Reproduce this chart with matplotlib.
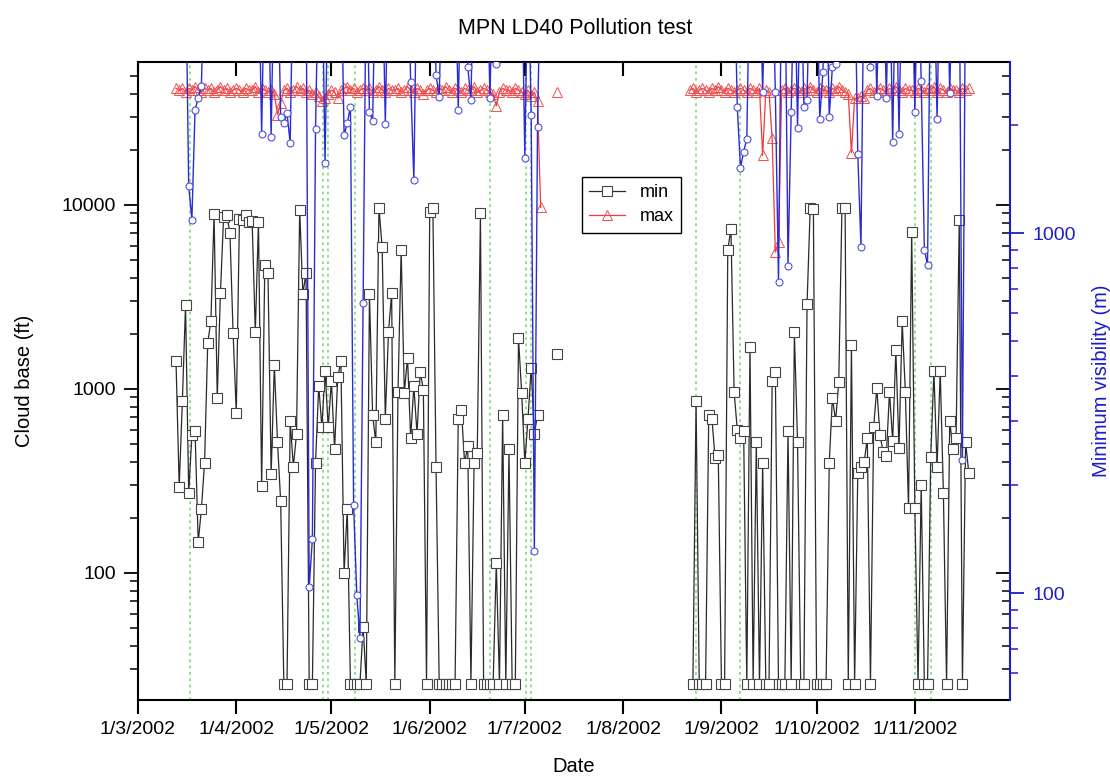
import numpy as np
import pandas as pd
import matplotlib
matplotlib.use('Agg')
import matplotlib.pyplot as plt
import matplotlib.dates as mdates
from matplotlib.ticker import FixedLocator, FuncFormatter, LogLocator, NullFormatter

plt.rcParams['font.family'] = ['Liberation Sans', 'DejaVu Sans']

nan = np.nan
T = 6000  # visibility above the top of the right axis (off scale)

# ---- first block of daily data (13 Mar - 12 Jul 2002) ----
start_1 = '2002-03-13'
cloud_min_1 = [
    1410, 293, 860, 2860, 272, 560, 590, 147, 222, 397,
    1780, 2340, 8930, 895, 3320, 8600, 8800, 7050, 2010, 740,
    8400, 8300, 8800, 8100, 8200, 2040, 8100, 296, 4720, 4270,
    346, 1350, 515, 245, 25, 25, 670, 378, 570, 9400,
    3290, 4270, 25, 25, 397, 1040, 620, 1250, 620, 1110,
    470, 1160, 1410, 100, 222, 25, 25, 25, 25, 51,
    25, 3290, 720, 515, 9650, 5900, 690, 2040, 3320, 25,
    965, 5700, 955, 1480, 540, 1040, 570, 1240, 990, 25,
    9170, 9650, 375, 25, 25, 25, 25, 25, 25, 690,
    770, 397, 490, 25, 397, 450, 9030, 25, 25, 25,
    25, 113, 25, 720, 25, 470, 25, 25, 1890, 955,
    397, 690, 1300, 570, 720, nan, nan, nan, nan, nan,
    1550,
]
cloud_max_1_kft = [
    43, 42, 43, 41, 43, 42, 44, 42, 41, 43,
    42, 43, 41, 42, 44, 42, 43, 41, 42, 43,
    42, 41, 43, 42, 42, 44, 41, 43, 42, 41,
    42, 40, 31, 36, 42, 43, 41, 42, 44, 42,
    43, 41, 42, 40, 41, 39, 36.5, 38, 40, 42,
    41, 38, 42, 43, 44, 42, 43, 41, 42, 43,
    42, 43, 41, 42, 44, 42, 41, 43, 42, 42,
    43, 41, 42, 44, 42, 41, 43, 42, 40, 42,
    43, 42, 41, 43, 42, 44, 42, 41, 43, 42,
    41, 43, 42, 42, 44, 41, 42, 43, 42, 41,
    40, 34.5, 41, 43, 42, 42, 41, 43, 42, 41,
    40, 42, 39, 41, 36.5, 9.7, nan, nan, nan, nan,
    41,
]
vis_min_1 = [
    T, T, T, T, 1350, 1090, 2200, 2370, 2560, T,
    T, T, T, T, T, T, T, T, T, T,
    T, T, T, T, T, T, T, 1880, T, T,
    1850, T, T, 2100, 2020, 2150, 1780, T, T, T,
    T, T, 104, 141, 1950, T, T, 1560, T, T,
    T, T, T, 1870, 2020, 2240, 176, 99, 75, 640,
    T, 2170, 2050, T, T, T, 2010, T, T, T,
    T, T, T, T, 2630, 1400, T, T, T, T,
    T, T, 2750, 2380, T, T, T, T, T, 2200,
    T, T, 2900, 2340, T, T, T, T, T, 2370,
    T, 2950, T, T, T, T, T, T, T, T,
    1620, T, 2130, 131, 1970, T, nan, nan, nan, nan,
    nan,
]

# ---- second block of daily data (22 Aug - 18 Nov 2002) ----
start_2 = '2002-08-22'
cloud_min_2 = [
    nan, 25, 860, 25, 25, 25, 720, 690, 420, 440,
    25, 25, 5700, 7400, 965, 600, 540, 590, 25, 1700,
    25, 515, 25, 397, 25, 25, 1110, 1240, 25, 25,
    25, 590, 25, 2040, 515, 25, 25, 2900, 9650, 9500,
    25, 25, 25, 25, 397, 895, 670, 1090, 9650, 9650,
    25, 1730, 25, 350, 375, 400, 540, 25, 620, 1010,
    560, 455, 430, 965, 520, 1620, 475, 2340, 965, 225,
    7130, 225, 25, 300, 25, 25, 425, 1250, 375, 1250,
    272, 25, 670, 470, 540, 8300, 25, 515, 350,
]
cloud_max_2_kft = [
    42, 43, 41, 42, 43, 42, 41, 43, 42, 44,
    42, 41, 43, 42, 41, 42, 43, 42, 41, 43,
    42, 41, 43, 18.6, 42, 41, 23, 5.55, 6.3, 42,
    43, 41, 42, 43, 42, 41, 43, 42, 44, 42,
    41, 43, 42, 42, 41, 43, 42, 44, 42, 41,
    40, 19.2, 38, 38, 39, 38, 42, 43, 41, 42,
    43, 42, 41, 43, 42, 44, 42, 41, 43, 42,
    42, 41, 43, 42, 41, 43, 42, 44, 41, 43,
    42, 41, 43, 42, 42, 41, 43, 42, 43,
]
vis_min_2 = [
    T, T, T, T, T, T, T, T, T, T,
    T, T, T, T, T, 2240, 1520, 1680, 1830, T,
    T, T, T, 2460, T, T, T, 2460, 730, T,
    T, 810, 2170, T, 1960, T, 2240, 2340, T, T,
    T, 2070, 2800, T, 2100, 2900, 2950, T, T, T,
    T, T, T, 1660, 915, T, T, 2900, T, 2400,
    T, T, 2370, T, 1790, T, 1880, T, T, T,
    T, 2170, T, 2650, 900, 815, T, T, 2070, T,
    T, T, 2450, T, T, T, 234, T, T,
]

# dotted green event markers, days after 1 Mar 2002
event_days = [16.4, 58.2, 59.8, 68.3, 111.1, 122.5, 124.1, 176.0, 189.9, 245.0, 250.0]
month_ticks = pd.date_range('2002-03-01', '2002-11-01', freq='MS')

blocks = [
    (start_1, cloud_min_1, cloud_max_1_kft, vis_min_1),
    (start_2, cloud_min_2, cloud_max_2_kft, vis_min_2),
]

plain = FuncFormatter(lambda v, p: '{:.0f}'.format(v))

fig = plt.figure(figsize=(11.1, 7.8), dpi=100)
ax = fig.add_axes([0.1243, 0.1026, 0.7856, 0.8179])
ax3 = ax.twinx()   # mirrored black ticks on the right, pointing inwards
ax2 = ax.twinx()   # blue visibility axis

for d in event_days:
    ax.axvline(pd.Timestamp('2002-03-01') + pd.Timedelta(days=d),
               color='#80e080', ls=(0, (1.5, 2)), lw=1.3, zorder=0)

for i, (start, cmin, cmax_k, vmin) in enumerate(blocks):
    dates = pd.date_range(start, periods=len(cmin), freq='D')
    ax.plot(dates, cmin, color='#2a2a2a', lw=0.9, marker='s', ms=6.5,
            mfc='white', mec='#444444', mew=0.8, label='min' if i == 0 else None, zorder=3)
    ax.plot(dates, np.array(cmax_k) * 1000, color='#ee3b3b', lw=0.9, marker='^', ms=7.5,
            mfc='none', mec='#ee5050', mew=0.7, label='max' if i == 0 else None, zorder=2)
    ax2.plot(dates, vmin, color='#2b2bd6', lw=1.0, marker='o', ms=5,
             mfc='white', mec='#5050e0', mew=0.8)

# x axis
ax.set_xlim(pd.Timestamp('2002-03-01'), pd.Timestamp('2002-12-01'))
ax.xaxis.set_major_locator(FixedLocator(mdates.date2num(month_ticks)))
ax.xaxis.set_major_formatter(FuncFormatter(
    lambda v, p: '{0.day}/{0.month}/{0.year}'.format(mdates.num2date(v))))
ax.tick_params(axis='x', direction='out', length=10, width=1.5, labelsize=14, pad=5)
ax.set_xlabel('Date', fontsize=14.5, labelpad=14)

top = ax.secondary_xaxis('top')
top.xaxis.set_major_locator(FixedLocator(mdates.date2num(month_ticks)))
top.tick_params(direction='in', length=10, width=1.5, labeltop=False)
top.spines['top'].set_linewidth(1.5)

# left axis
for a in (ax, ax3):
    a.set_yscale('log')
    a.set_ylim(20.4, 59800)
ax.yaxis.set_major_locator(LogLocator(base=10))
ax.yaxis.set_minor_locator(LogLocator(base=10, subs=np.arange(2, 10)))
ax.yaxis.set_major_formatter(plain)
ax.yaxis.set_minor_formatter(NullFormatter())
ax.tick_params(axis='y', which='major', direction='out', length=10, width=1.3, labelsize=14, pad=6)
ax.tick_params(axis='y', which='minor', direction='out', length=6, width=1.1)
ax.set_ylabel('Cloud base (ft)', fontsize=14.5, labelpad=20)
ax.spines['left'].set_linewidth(1.5)
ax.spines['bottom'].set_linewidth(1.5)
ax.spines['top'].set_visible(False)
ax.spines['right'].set_visible(False)

ax3.yaxis.set_major_locator(LogLocator(base=10))
ax3.yaxis.set_minor_locator(LogLocator(base=10, subs=np.arange(2, 10)))
ax3.yaxis.set_major_formatter(NullFormatter())
ax3.yaxis.set_minor_formatter(NullFormatter())
ax3.tick_params(axis='y', which='major', direction='in', length=10, width=1.3, color='black')
ax3.tick_params(axis='y', which='minor', direction='in', length=6, width=1.1, color='black')
for s in ax3.spines.values():
    s.set_visible(False)

# right axis
blue = '#1c1ccc'
ax2.set_yscale('log')
ax2.set_ylim(50.5, 2985)
ax2.yaxis.set_major_locator(LogLocator(base=10))
ax2.yaxis.set_minor_locator(LogLocator(base=10, subs=np.arange(2, 10)))
ax2.yaxis.set_major_formatter(plain)
ax2.yaxis.set_minor_formatter(NullFormatter())
ax2.tick_params(axis='y', which='major', direction='out', length=10, width=1.3,
                colors=blue, labelsize=14, pad=6)
ax2.tick_params(axis='y', which='minor', direction='out', length=6, width=1.1, colors=blue)
ax2.set_ylabel('Minimum visibility (m)', fontsize=14.5, color=blue, labelpad=12)
for side in ('left', 'top', 'bottom'):
    ax2.spines[side].set_visible(False)
ax2.spines['right'].set_color(blue)
ax2.spines['right'].set_linewidth(1.5)

handles, labels = ax.get_legend_handles_labels()
leg = ax2.legend(handles, labels, loc='upper left', bbox_to_anchor=(0.509, 0.82),
                 borderaxespad=0, fontsize=13, frameon=True, fancybox=False,
                 edgecolor='black', framealpha=1, handlelength=2.0,
                 borderpad=0.4, labelspacing=0.4)
leg.get_frame().set_linewidth(1.0)

fig.text(0.518, 0.963, 'MPN LD40 Pollution test', ha='center', va='center', fontsize=15.5)

fig.savefig('out.png', dpi=100)
